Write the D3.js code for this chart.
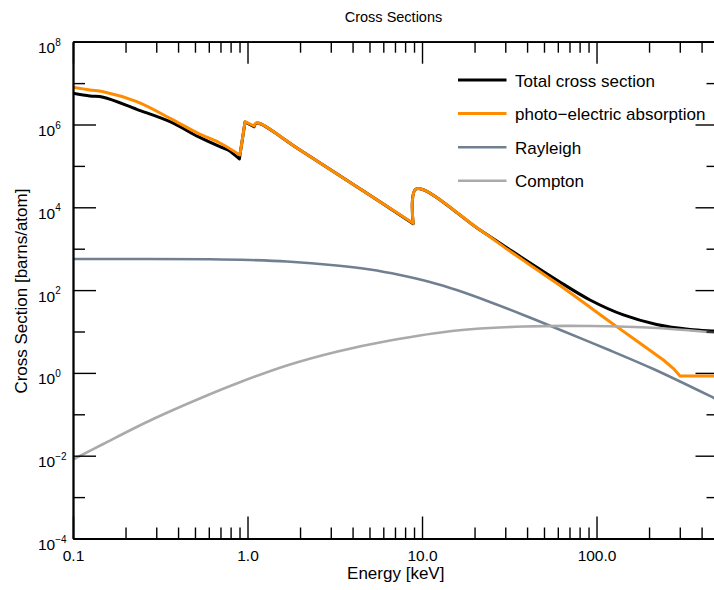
<!DOCTYPE html>
<html>
<head>
<meta charset="utf-8">
<script src="https://cdn.jsdelivr.net/npm/d3@7"></script>
<style>
	body { margin: 0; background: #fff; }
	svg { display: block; font-family: "Liberation Sans", Arial, Helvetica, sans-serif; }
	.axis path, .axis line { stroke: #000; }
	.axis path { stroke-width: 1.8; }
	.axis line { stroke-width: 1.4; }
	.axis text { fill: #000; }
	.curve { fill: none; stroke-linejoin: round; }
</style>
</head>
<body>
<div class="chart"></div>
<script>

var colors = {
	total: "#000000",
	photo: "#ff8c00",
	rayleigh: "#708090",
	compton: "#aaaaaa"
}

// energies in keV, cross sections in barns/atom
var total_e = [0.1, 0.125, 0.149, 0.232, 0.36, 0.522, 0.695, 0.773, 0.898, 0.968, 1.09, 1.13, 2.0, 5.74, 8.9, 9.25, 21.5, 32, 59.2, 91.8, 142.6, 221, 343.5, 467, 500];
var total_v = [5.67e6, 4.88e6, 4.54e6, 2.33e6, 1.17e6, 5.07e5, 2.91e5, 2.42e5, 1.47e5, 1.15e6, 8.8e5, 1.08e6, 2.42e5, 1.36e4, 4.0e3, 2.77e4, 2.83e3, 931, 175, 57.7, 25.1, 14.8, 11.2, 10.3, 10.1];
// energies after which the curve jumps or kinks straight to the next point
var total_edges = [0.898, 0.968, 1.09, 8.9];

var photo_e = [0.1, 0.125, 0.149, 0.232, 0.36, 0.522, 0.695, 0.905, 0.968, 1.09, 1.13, 2.0, 5.74, 8.9, 9.25, 21.5, 31.2, 59.2, 130.6, 241.7, 275, 301, 500];
var photo_v = [7.9e6, 6.8e6, 6.2e6, 3.56e6, 1.41e6, 6.1e5, 3.57e5, 1.83e5, 1.17e6, 9.2e5, 1.1e6, 2.42e5, 1.36e4, 4.1e3, 2.77e4, 2.83e3, 931, 146, 13.1, 2.05, 1.29, 0.84, 0.84];
var photo_edges = [0.905, 0.968, 1.09, 8.9, 241.7, 275, 301];

var rayleigh_e = [0.1, 0.61, 1.03, 1.68, 3.24, 5.03, 7.48, 11.1, 15.8, 24.5, 38.1, 59.2, 114.3, 211.8, 471, 500];
var rayleigh_v = [564, 555, 533, 491, 393, 315, 232, 157, 100, 51.6, 25.1, 11.8, 3.78, 1.24, 0.248, 0.219];

var compton_e = [0.1, 0.149, 0.288, 0.558, 0.867, 1.68, 3.24, 6.56, 15.8, 38.1, 91.8, 221, 500];
var compton_v = [0.00809, 0.0192, 0.0769, 0.262, 0.555, 1.51, 3.25, 6.07, 10.6, 13.2, 13.6, 12.2, 9.2];

var legend_labels = ["Total cross section", "photo\u2212electric absorption", "Rayleigh", "Compton"];

var x_major = [0.1, 1, 10, 100];
var x_major_labels = ["0.1", "1.0", "10.0", "100.0"];
var x_minor = [0.2, 0.3, 0.4, 0.5, 0.6, 0.7, 0.8, 0.9, 2, 3, 4, 5, 6, 7, 8, 9, 20, 30, 40, 50, 60, 70, 80, 90, 200, 300, 400];
var y_major_exp = [8, 6, 4, 2, 0, -2, -4];
var y_minor_exp = [7, 5, 3, 1, -1, -3];

var series = [
	{e: total_e, v: total_v, edges: total_edges, color: colors.total, width: 3},
	{e: photo_e, v: photo_v, edges: photo_edges, color: colors.photo, width: 3},
	{e: rayleigh_e, v: rayleigh_v, edges: [], color: colors.rayleigh, width: 2.6},
	{e: compton_e, v: compton_v, edges: [], color: colors.compton, width: 2.6}
];

// SETUP THE CHART
var W = 714, H = 590;
var margin = {left: 73, right: -4.5, top: 41.7, bottom: 51.5};
var width = W - margin.left - margin.right;
var height = H - margin.top - margin.bottom;

var root = d3.select(".chart").append("svg")
		.attr("width", W)
		.attr("height", H);

var svg = root.append("g")
		.attr("transform", "translate(" + margin.left + ", " + margin.top + ")");

var x = d3.scaleLog()
	.domain([0.1, 500])
	.range([0, width]);

var y = d3.scaleLog()
	.domain([1e-4, 1e8])
	.range([height, 0]);

root.append("defs").append("clipPath")
		.attr("id", "plot-clip")
	.append("rect")
		.attr("width", width)
		.attr("height", height);

// curves: smooth between edges, straight across each edge
var smooth = d3.line()
	.x(function(d){ return x(d[0]); })
	.y(function(d){ return y(d[1]); })
	.curve(d3.curveCatmullRom.alpha(0.5));

function curvePath(s){
	var pts = d3.zip(s.e, s.v);
	var pieces = [], cur = [];
	pts.forEach(function(p){
		cur.push(p);
		if (s.edges.indexOf(p[0]) > -1){
			pieces.push(cur);
			cur = [p];
		}
	});
	pieces.push(cur);
	return pieces.map(function(piece, i){
		var d = piece.length > 1 ? smooth(piece) : "";
		return i == 0 ? d : d.replace(/^M/, "L");
	}).join("");
}

svg.append("g")
		.attr("clip-path", "url(#plot-clip)")
	.selectAll(".curve")
	.data(series)
	.enter().append("path")
		.attr("class", "curve")
		.attr("d", curvePath)
		.style("stroke", function(s){ return s.color; })
		.style("stroke-width", function(s){ return s.width; });

// axes: ticks point inward on all four sides
var y_major = y_major_exp.map(function(p){ return Math.pow(10, p); });
var y_minor = y_minor_exp.map(function(p){ return Math.pow(10, p); });

function addAxis(axis, tx, ty){
	return svg.append("g")
		.attr("class", "axis")
		.attr("transform", "translate(" + tx + ", " + ty + ")")
		.call(axis);
}

var bottom = addAxis(d3.axisBottom(x).tickValues(x_major).tickSize(-22).tickSizeOuter(0)
	.tickFormat(function(d, i){ return x_major_labels[i]; }), 0, height);
bottom.selectAll("text")
		.attr("y", 22.5)
		.attr("dy", null)
		.style("font-size", "15.5px");
addAxis(d3.axisBottom(x).tickValues(x_minor).tickSize(-11).tickSizeOuter(0).tickFormat(""), 0, height);

addAxis(d3.axisTop(x).tickValues(x_major).tickSize(-22).tickSizeOuter(0).tickFormat(""), 0, 0);
addAxis(d3.axisTop(x).tickValues(x_minor).tickSize(-11).tickSizeOuter(0).tickFormat(""), 0, 0);

var left = addAxis(d3.axisLeft(y).tickValues(y_major).tickSize(-23).tickSizeOuter(0).tickFormat(""), 0, 0);
addAxis(d3.axisLeft(y).tickValues(y_minor).tickSize(-12).tickSizeOuter(0).tickFormat(""), 0, 0);

addAxis(d3.axisRight(y).tickValues(y_major).tickSize(-23).tickSizeOuter(0).tickFormat(""), width, 0);
addAxis(d3.axisRight(y).tickValues(y_minor).tickSize(-12).tickSizeOuter(0).tickFormat(""), width, 0);

// y tick labels as 10 with a superscript exponent
left.selectAll(".tick text").remove();
left.selectAll(".tick").each(function(d){
	var p = Math.round(Math.log10(d));
	var t = d3.select(this).append("text")
		.attr("x", -35)
		.attr("y", 11)
		.attr("text-anchor", "start")
		.style("font-size", "15.5px");
	t.append("tspan").text("10");
	t.append("tspan")
		.attr("dy", -7.5)
		.style("font-size", "10px")
		.text(p < 0 ? "\u2212" + (-p) : p);
});

// titles
root.append("text")
		.attr("x", 393.5)
		.attr("y", 22)
		.attr("text-anchor", "middle")
		.style("font-size", "14.5px")
		.text("Cross Sections");

root.append("text")
		.attr("x", margin.left + x(Math.sqrt(0.1 * 500)) )
		.attr("y", 579)
		.attr("text-anchor", "middle")
		.style("font-size", "17px")
		.text("Energy [keV]");

root.append("text")
		.attr("transform", "translate(26.5, " + (margin.top + height / 2 + 1) + ") rotate(-90)")
		.attr("text-anchor", "middle")
		.style("font-size", "17px")
		.text("Cross Section [barns/atom]");

// legend
var legend = root.append("g")
		.attr("transform", "translate(458, 80)");

var item = legend.selectAll(".legend-item")
	.data(series)
	.enter().append("g")
		.attr("class", "legend-item")
		.attr("transform", function(d, i){ return "translate(0, " + (i * 33.6) + ")"; });

item.append("line")
		.attr("x1", 0)
		.attr("x2", 48.5)
		.style("stroke", function(d){ return d.color; })
		.style("stroke-width", function(d){ return d.width; });

item.append("text")
		.attr("x", 57)
		.attr("y", 6.5)
		.style("font-size", "17px")
		.text(function(d, i){ return legend_labels[i]; });

</script>
</body>
</html>
